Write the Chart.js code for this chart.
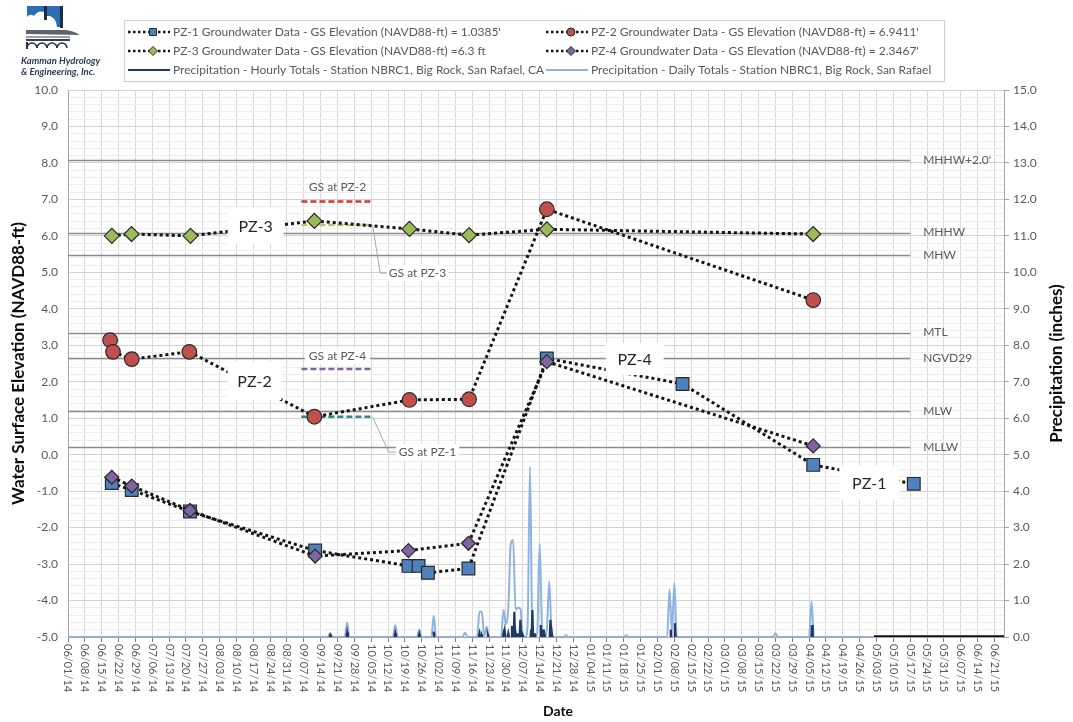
<!DOCTYPE html>
<html>
<head>
<meta charset="utf-8">
<script src="https://cdn.jsdelivr.net/npm/chart.js@4.4.1/dist/chart.umd.min.js"></script>
<style>
html,body{margin:0;padding:0;background:#ffffff;}
#c{display:block;}
</style>
</head>
<body>
<canvas id="c" width="1073" height="722"></canvas>
<script>
// ---------------- DATA ----------------
const X_TICK_LABELS = ['06/01/14','06/08/14','06/15/14','06/22/14','06/29/14','07/06/14','07/13/14','07/20/14','07/27/14','08/03/14','08/10/14','08/17/14','08/24/14','08/31/14','09/07/14','09/14/14','09/21/14','09/28/14','10/05/14','10/12/14','10/19/14','10/26/14','11/02/14','11/09/14','11/16/14','11/23/14','11/30/14','12/07/14','12/14/14','12/21/14','12/28/14','01/04/15','01/11/15','01/18/15','01/25/15','02/01/15','02/08/15','02/15/15','02/22/15','03/01/15','03/08/15','03/15/15','03/22/15','03/29/15','04/05/15','04/12/15','04/19/15','04/26/15','05/03/15','05/10/15','05/17/15','05/24/15','05/31/15','06/07/15','06/14/15','06/21/15'];
const AXIS_START = '2014-06-01';
const AXIS_END = '2015-06-25';
const Y_LEFT_MIN = -5, Y_LEFT_MAX = 10;
const Y_RIGHT_MIN = 0, Y_RIGHT_MAX = 15;

const PZ1_DATES = ['2014-06-19 05:00','2014-06-27 12:00','2014-07-21 17:00','2014-09-11 17:00','2014-10-20 12:00','2014-10-24 17:00','2014-10-28 14:00','2014-11-14 10:00','2014-12-17 00:00','2015-02-11 10:00','2015-04-06 17:00','2015-05-18 12:00'];
const PZ1_VALUES = [-0.78,-0.97,-1.56,-2.63,-3.05,-3.05,-3.24,-3.12,2.64,1.94,-0.28,-0.80];

const PZ2_DATES = ['2014-06-18 12:00','2014-06-19 17:00','2014-06-27 12:00','2014-07-21 10:00','2014-09-11 10:00','2014-10-20 22:00','2014-11-14 17:00','2014-12-17 00:00','2015-04-06 17:00'];
const PZ2_VALUES = [3.14,2.82,2.62,2.82,1.04,1.50,1.52,6.73,4.24];

const PZ3_DATES = ['2014-06-19 05:00','2014-06-27 10:00','2014-07-21 22:00','2014-09-11 10:00','2014-10-20 22:00','2014-11-14 17:00','2014-12-17 00:00','2015-04-06 17:00'];
const PZ3_VALUES = [6.00,6.05,6.00,6.41,6.19,6.02,6.18,6.05];

const PZ4_DATES = ['2014-06-19 05:00','2014-06-27 12:00','2014-07-21 17:00','2014-09-11 17:00','2014-10-20 12:00','2014-11-14 10:00','2014-12-17 00:00','2015-04-06 17:00'];
const PZ4_VALUES = [-0.62,-0.86,-1.53,-2.78,-2.63,-2.43,2.55,0.24];

const DAILY_DATES = ['2014-06-01','2014-09-17','2014-09-18','2014-09-19','2014-09-24','2014-09-25','2014-09-26','2014-10-14','2014-10-15','2014-10-16','2014-10-24','2014-10-25','2014-10-26','2014-10-30','2014-10-31','2014-11-01','2014-11-12','2014-11-13','2014-11-14','2014-11-18','2014-11-19','2014-11-20','2014-11-21','2014-11-22','2014-11-23','2014-11-28','2014-11-29','2014-11-30','2014-12-01','2014-12-02','2014-12-03','2014-12-04','2014-12-05','2014-12-06','2014-12-07','2014-12-08','2014-12-09','2014-12-10','2014-12-11','2014-12-12','2014-12-13','2014-12-14','2014-12-15','2014-12-16','2014-12-17','2014-12-18','2014-12-19','2014-12-20','2014-12-21','2014-12-24','2014-12-25','2014-12-26','2015-01-18','2015-01-19','2015-01-20','2015-02-05','2015-02-06','2015-02-07','2015-02-08','2015-02-09','2015-03-21','2015-03-22','2015-03-23','2015-04-05','2015-04-06','2015-04-07','2015-06-25'];
const DAILY_VALUES = [0,0,0.10,0,0,0.40,0,0,0.33,0,0,0.20,0,0,0.58,0,0,0.12,0,0,0.69,0.69,0.02,0.28,0,0,0.74,0.35,0.80,2.55,2.66,0.75,0.80,0.78,0.05,0,0.30,4.67,0.20,0,0.10,2.57,0.30,0,0.20,1.52,0.10,0,0,0,0.05,0,0,0.05,0,0,1.31,0.10,1.49,0,0,0.10,0,0,0.97,0,0];

const HOURLY_SPIKE_TIMES = ['2014-09-18 00:00','2014-09-25 00:00','2014-10-15 00:00','2014-10-25 00:00','2014-10-31 00:00','2014-11-19 00:00','2014-11-20 00:00','2014-11-22 12:00','2014-11-29 00:00','2014-11-29 12:00','2014-12-01 00:00','2014-12-02 12:00','2014-12-03 12:00','2014-12-04 00:00','2014-12-05 00:00','2014-12-06 00:00','2014-12-07 00:00','2014-12-10 12:00','2014-12-11 00:00','2014-12-12 00:00','2014-12-14 12:00','2014-12-15 12:00','2014-12-16 00:00','2014-12-18 12:00','2014-12-19 00:00','2015-02-06 12:00','2015-02-08 05:00','2015-04-06 05:00'];
const HOURLY_SPIKE_VALUES = [0.05,0.12,0.10,0.08,0.15,0.10,0.05,0.06,0.10,0.15,0.10,0.30,0.69,0.12,0.10,0.47,0.05,0.20,0.74,0.10,0.33,0.20,0.08,0.47,0.15,0.20,0.38,0.33];
const HOURLY_ZERO_RUN = ['2015-05-02 00:00','2015-06-25 00:00'];

const REF_NAMES = ["MHHW+2.0'",'MHHW','MHW','MTL','NGVD29','MLW','MLLW'];
const REF_VALUES = [8.09,6.09,5.47,3.35,2.64,1.19,0.20];
const REF_LINE_END = '2015-05-17';

const GS_NAMES = ['GS at PZ-1','GS at PZ-2','GS at PZ-3','GS at PZ-4'];
const GS_VALUES = [1.0385,6.9411,6.3,2.3467];
const GS_DASH_START = '2014-09-06';
const GS_DASH_END = '2014-10-05 14:00';

const SERIES_LABELS = [
  "PZ-1 Groundwater Data - GS Elevation (NAVD88-ft) = 1.0385'",
  "PZ-2 Groundwater Data - GS Elevation (NAVD88-ft) = 6.9411'",
  "PZ-3 Groundwater Data - GS Elevation (NAVD88-ft) =6.3 ft",
  "PZ-4 Groundwater Data - GS Elevation (NAVD88-ft) = 2.3467'",
  "Precipitation - Hourly Totals - Station NBRC1, Big Rock, San Rafael, CA",
  "Precipitation - Daily Totals - Station NBRC1, Big Rock, San Rafael"
];

// ---------------- helpers ----------------
const ORIGIN = Date.UTC(2014, 5, 1);
function dayOf(s) {
  const parts = s.split(' ');
  const d = parts[0].split('-').map(Number);
  const t = (parts[1] || '00:00').split(':').map(Number);
  return (Date.UTC(d[0], d[1] - 1, d[2], t[0], t[1]) - ORIGIN) / 86400000;
}
function labelDay(l) {
  const p = l.split('/').map(Number);
  return (Date.UTC(2000 + p[2], p[0] - 1, p[1]) - ORIGIN) / 86400000;
}
function pts(dates, values) { return dates.map((d, i) => ({x: dayOf(d), y: values[i]})); }

const hourlyData = [];
HOURLY_SPIKE_TIMES.forEach((t, i) => {
  const d = dayOf(t);
  hourlyData.push({x: d - 0.3, y: 0}, {x: d, y: HOURLY_SPIKE_VALUES[i]}, {x: d + 0.3, y: 0}, {x: d + 0.31, y: null});
});
const ZERO_RUN_START = dayOf(HOURLY_ZERO_RUN[0]);
hourlyData.push({x: ZERO_RUN_START, y: 0}, {x: dayOf(HOURLY_ZERO_RUN[1]), y: 0});

const FONT = 'Lato, "Open Sans", "Liberation Sans", sans-serif';
const GRAY_TEXT = '#595959';

const COLORS = {
  pz1: '#4f81bd', pz2: '#c0504d', pz3: '#9bbb59', pz4: '#8064a2',
  hourly: '#1f3864', daily: '#8db4e2', dots: '#141414', marker: '#2a2a2a'
};
const GS_COLORS = ['#2f8a82', '#e0322c', '#b3c96e', '#7f64a6'];

// annotation layout (positions in data space)
const PZ_BOXES = [
  {text: 'PZ-3', date: '2014-08-18 00:00', value: 6.27, w: 56, h: 36},
  {text: 'PZ-2', date: '2014-08-17 12:00', value: 2.02, w: 54, h: 38},
  {text: 'PZ-4', date: '2015-01-22 12:00', value: 2.62, w: 58, h: 32},
  {text: 'PZ-1', date: '2015-04-30 00:00', value: -0.78, w: 60, h: 34}
];

function gsDataset(label, dates, values, style, color, order, radius) {
  return {
    label, data: pts(dates, values), showLine: true, yAxisID: 'y', order,
    borderColor: COLORS.dots, borderWidth: 3, borderDash: [3, 3], borderCapStyle: 'butt',
    pointStyle: style, pointRadius: radius, pointHoverRadius: radius,
    pointBackgroundColor: color, pointBorderColor: COLORS.marker, pointBorderWidth: 1.2,
    tension: 0
  };
}

const datasets = [
  gsDataset(SERIES_LABELS[0], PZ1_DATES, PZ1_VALUES, 'rect', COLORS.pz1, 3, 9),
  gsDataset(SERIES_LABELS[1], PZ2_DATES, PZ2_VALUES, 'circle', COLORS.pz2, 2, 7.3),
  gsDataset(SERIES_LABELS[2], PZ3_DATES, PZ3_VALUES, 'rectRot', COLORS.pz3, 1, 7.5),
  gsDataset(SERIES_LABELS[3], PZ4_DATES, PZ4_VALUES, 'rectRot', COLORS.pz4, 0, 7),
  {label: SERIES_LABELS[4], data: hourlyData, showLine: true, yAxisID: 'y2', order: 4,
   borderColor: COLORS.hourly, borderWidth: 2.2, pointRadius: 0, spanGaps: false, tension: 0,
   segment: {
     borderWidth: c => c.p0.parsed.x >= ZERO_RUN_START - 0.01 ? 3.5 : undefined,
     borderColor: c => c.p0.parsed.x >= ZERO_RUN_START - 0.01 ? '#111111' : undefined
   }},
  {label: SERIES_LABELS[5], data: pts(DAILY_DATES, DAILY_VALUES), showLine: true, yAxisID: 'y2', order: 5,
   borderColor: COLORS.daily, borderWidth: 2, pointRadius: 0, tension: 0.4, cubicInterpolationMode: 'monotone'}
];

// ---------------- plugins ----------------
function xp(chart, d) { return chart.scales.x.getPixelForValue(typeof d === 'string' ? dayOf(d) : d); }
function yp(chart, v) { return chart.scales.y.getPixelForValue(v); }

const backgroundPlugin = {
  id: 'bgLines',
  beforeDatasetsDraw(chart) {
    const ctx = chart.ctx, a = chart.chartArea;
    ctx.save();
    ctx.beginPath(); ctx.rect(a.left, a.top, a.right - a.left, a.bottom - a.top); ctx.clip();
    ctx.strokeStyle = '#8c8c8c'; ctx.lineWidth = 1.6;
    const xEnd = xp(chart, REF_LINE_END);
    REF_VALUES.forEach(v => {
      const y = Math.round(yp(chart, v)) + 0.5;
      ctx.beginPath(); ctx.moveTo(a.left, y); ctx.lineTo(xEnd, y); ctx.stroke();
    });
    const x0 = xp(chart, GS_DASH_START), x1 = xp(chart, GS_DASH_END);
    GS_VALUES.forEach((v, i) => {
      ctx.strokeStyle = GS_COLORS[i]; ctx.lineWidth = 2.5; ctx.setLineDash([6, 3]);
      const y = yp(chart, v);
      ctx.beginPath(); ctx.moveTo(x0, y); ctx.lineTo(x1, y); ctx.stroke();
    });
    ctx.restore();
  }
};

function textBox(ctx, text, cx, cy, align, pad) {
  const w = ctx.measureText(text).width;
  const left = align === 'left' ? cx : cx - w / 2;
  ctx.fillStyle = '#ffffff';
  ctx.fillRect(left - pad, cy - 8, w + 2 * pad, 16);
  ctx.fillStyle = GRAY_TEXT;
  ctx.textAlign = 'left';
  ctx.fillText(text, left, cy);
}

const foregroundPlugin = {
  id: 'fgText',
  afterDatasetsDraw(chart) {
    const ctx = chart.ctx;
    ctx.save();
    ctx.textBaseline = 'middle';
    ctx.font = '12px ' + FONT; ctx.fillStyle = GRAY_TEXT; ctx.textAlign = 'left';
    const xl = xp(chart, REF_LINE_END) + 13;
    REF_NAMES.forEach((n, i) => ctx.fillText(n, xl, yp(chart, REF_VALUES[i])));

    ctx.font = '12px ' + FONT;
    const xEndDash = xp(chart, GS_DASH_END);
    ctx.fillStyle = GRAY_TEXT; ctx.textAlign = 'center';
    ctx.fillText(GS_NAMES[1], xp(chart, '2014-09-21 00:00'), yp(chart, 7.33));
    textBox(ctx, GS_NAMES[3], xp(chart, '2014-09-21 00:00'), yp(chart, 2.70), 'center', 4);
    ctx.strokeStyle = '#a6a6a6'; ctx.lineWidth = 1; ctx.setLineDash([]);
    ctx.beginPath();
    ctx.moveTo(xEndDash, yp(chart, 6.3));
    ctx.lineTo(xp(chart, '2014-10-08 18:00'), yp(chart, 4.98));
    ctx.lineTo(xp(chart, '2014-10-11 12:00'), yp(chart, 4.98));
    ctx.stroke();
    textBox(ctx, GS_NAMES[2], xp(chart, '2014-10-12 08:00'), yp(chart, 4.98), 'left', 2);
    ctx.beginPath();
    ctx.moveTo(xEndDash, yp(chart, 1.0385));
    ctx.lineTo(xp(chart, '2014-10-12 06:00'), yp(chart, 0.07));
    ctx.lineTo(xp(chart, '2014-10-16 00:00'), yp(chart, 0.07));
    ctx.stroke();
    textBox(ctx, GS_NAMES[0], xp(chart, '2014-10-16 12:00'), yp(chart, 0.07), 'left', 3);

    PZ_BOXES.forEach(b => {
      const cx = xp(chart, b.date), cy = yp(chart, b.value);
      ctx.fillStyle = '#ffffff';
      ctx.fillRect(cx - b.w / 2, cy - b.h / 2, b.w, b.h);
      ctx.fillStyle = '#262626'; ctx.font = '16px ' + FONT; ctx.textAlign = 'center';
      ctx.fillText(b.text, cx, cy + 1);
    });
    ctx.restore();
  },
  afterDraw(chart) {
    const ctx = chart.ctx, a = chart.chartArea;
    ctx.save();
    ctx.font = '11px ' + FONT; ctx.fillStyle = GRAY_TEXT;
    ctx.textAlign = 'left'; ctx.textBaseline = 'middle';
    X_TICK_LABELS.forEach(l => {
      const x = xp(chart, labelDay(l));
      ctx.save(); ctx.translate(x, a.bottom + 7); ctx.rotate(Math.PI / 2);
      ctx.fillText(l, 0, 0); ctx.restore();
    });
    ctx.fillStyle = '#0d0d0d';
    ctx.font = 'bold 17px ' + FONT; ctx.textAlign = 'center';
    ctx.save(); ctx.translate(19, (a.top + a.bottom) / 2); ctx.rotate(-Math.PI / 2);
    ctx.fillText('Water Surface Elevation (NAVD88-ft)', 0, 0); ctx.restore();
    ctx.save(); ctx.translate(1057, (a.top + a.bottom) / 2); ctx.rotate(-Math.PI / 2);
    ctx.fillText('Precipitation (inches)', 0, 0); ctx.restore();
    ctx.font = 'bold 14px ' + FONT;
    ctx.fillText('Date', 558, 711);

    const L = {x: 124.5, y: 20.5, w: 820, h: 61};
    ctx.fillStyle = '#ffffff'; ctx.fillRect(L.x, L.y, L.w, L.h);
    ctx.strokeStyle = '#cfcfcf'; ctx.lineWidth = 1; ctx.strokeRect(L.x, L.y, L.w, L.h);
    const colX = [128, 546], rowY = [32, 51, 70];
    chart.data.datasets.forEach((ds, i) => {
      const col = i % 2, row = Math.floor(i / 2);
      const sx = colX[col], sy = rowY[row];
      ctx.save();
      if (i < 4) {
        ctx.strokeStyle = COLORS.dots; ctx.lineWidth = 2.5; ctx.setLineDash([2.5, 2.5]);
        ctx.beginPath(); ctx.moveTo(sx, sy); ctx.lineTo(sx + 42, sy); ctx.stroke();
        ctx.setLineDash([]);
        ctx.fillStyle = ds.pointBackgroundColor; ctx.strokeStyle = COLORS.marker; ctx.lineWidth = 1;
        ctx.beginPath();
        drawMarkerPath(ctx, ds.pointStyle, sx + 25, sy);
        ctx.fill(); ctx.stroke();
      } else {
        ctx.strokeStyle = ds.borderColor; ctx.lineWidth = 2;
        ctx.beginPath(); ctx.moveTo(sx, sy); ctx.lineTo(sx + 42, sy); ctx.stroke();
      }
      ctx.restore();
      ctx.font = '12px ' + FONT; ctx.fillStyle = GRAY_TEXT; ctx.textAlign = 'left'; ctx.textBaseline = 'middle';
      ctx.fillText(ds.label, sx + 45, sy);
    });

    drawLogo(ctx);
    ctx.restore();
  }
};

function drawMarkerPath(ctx, style, x, y) {
  if (style === 'rect') { ctx.rect(x - 3.5, y - 3.5, 7, 7); }
  else if (style === 'circle') { ctx.arc(x, y, 4, 0, Math.PI * 2); }
  else { ctx.moveTo(x, y - 4.5); ctx.lineTo(x + 4.5, y); ctx.lineTo(x, y + 4.5); ctx.lineTo(x - 4.5, y); ctx.closePath(); }
}

function drawLogo(ctx) {
  ctx.save();
  ctx.fillStyle = '#2f6db3';
  ctx.beginPath();
  ctx.moveTo(27, 6); ctx.lineTo(44, 6); ctx.lineTo(44, 12); ctx.quadraticCurveTo(38, 10, 34, 16);
  ctx.quadraticCurveTo(30, 13, 27, 17); ctx.closePath(); ctx.fill();
  ctx.beginPath();
  ctx.moveTo(47, 6); ctx.lineTo(63, 6); ctx.lineTo(63, 27); ctx.lineTo(57, 27);
  ctx.quadraticCurveTo(56, 18, 50, 16); ctx.lineTo(47, 16); ctx.closePath(); ctx.fill();
  ctx.fillStyle = '#1c2c4a';
  ctx.fillRect(44, 6, 3, 14);
  ctx.fillRect(60, 6, 3, 22);
  ctx.fillStyle = '#5d6470';
  ctx.beginPath(); ctx.moveTo(26, 30); ctx.lineTo(66, 30); ctx.quadraticCurveTo(74, 31, 80, 35); ctx.lineTo(26, 34); ctx.closePath(); ctx.fill();
  ctx.fillStyle = '#9aa0aa';
  ctx.fillRect(26, 36, 44, 2);
  ctx.fillStyle = '#3a4150';
  ctx.fillRect(26, 39, 44, 2);
  ctx.strokeStyle = '#2a3140'; ctx.lineWidth = 1.5;
  for (let k = 0; k < 4; k++) {
    ctx.beginPath(); ctx.arc(32 + k * 10, 48, 5, Math.PI, 2 * Math.PI); ctx.stroke();
  }
  ctx.fillStyle = '#2a3140'; ctx.fillRect(26, 42, 2, 7);
  ctx.fillStyle = '#2d3a57';
  ctx.font = 'italic bold 9.5px ' + FONT; ctx.textAlign = 'left'; ctx.textBaseline = 'middle';
  ctx.fillText('Kamman Hydrology', 21, 61);
  ctx.fillText('& Engineering, Inc.', 21, 72);
  ctx.restore();
}

// ---------------- chart ----------------
new Chart(document.getElementById('c'), {
  type: 'scatter',
  data: {datasets},
  options: {
    responsive: false, animation: false, devicePixelRatio: 1,
    layout: {padding: {top: 90, left: 0, right: 0, bottom: 0}},
    plugins: {legend: {display: false}, tooltip: {enabled: false}},
    events: [],
    scales: {
      x: {
        type: 'linear', position: 'bottom',
        min: dayOf(AXIS_START), max: dayOf(AXIS_END),
        afterBuildTicks: s => { s.ticks = X_TICK_LABELS.map(l => ({value: labelDay(l)})); },
        afterFit: s => { s.height = 85; },
        ticks: {autoSkip: false, minRotation: 90, maxRotation: 90, color: 'rgba(0,0,0,0)',
                callback: (v, i) => X_TICK_LABELS[i] || '', font: {size: 11, family: FONT}},
        grid: {color: '#d9d9d9', lineWidth: 1, tickLength: 5, tickColor: '#7f7f7f'},
        border: {color: '#a6a6a6', width: 1}
      },
      y: {
        type: 'linear', position: 'left', min: Y_LEFT_MIN, max: Y_LEFT_MAX,
        afterBuildTicks: s => {
          const t = [];
          for (let k = 0; k <= (Y_LEFT_MAX - Y_LEFT_MIN) * 5; k++) t.push({value: Math.round((Y_LEFT_MIN + k * 0.2) * 10) / 10});
          s.ticks = t;
        },
        afterFit: s => { s.width = 68; },
        ticks: {autoSkip: false, padding: 10, color: GRAY_TEXT, font: {size: 12, family: FONT},
                callback: v => Number.isInteger(v) ? v.toFixed(1) : ''},
        grid: {drawTicks: false, lineWidth: 1,
               color: c => (c.tick && Number.isInteger(c.tick.value)) ? '#d2d2d2' : '#eeeeee'},
        border: {color: '#a6a6a6', width: 1}
      },
      y2: {
        type: 'linear', position: 'right', min: Y_RIGHT_MIN, max: Y_RIGHT_MAX,
        afterFit: s => { s.width = 69; },
        ticks: {stepSize: 1, padding: 4, color: GRAY_TEXT, font: {size: 12, family: FONT},
                callback: v => v.toFixed(1)},
        grid: {drawOnChartArea: false, tickLength: 5, tickColor: '#a6a6a6'},
        border: {color: '#a6a6a6', width: 1}
      }
    }
  },
  plugins: [backgroundPlugin, foregroundPlugin]
});
</script>
</body>
</html>
